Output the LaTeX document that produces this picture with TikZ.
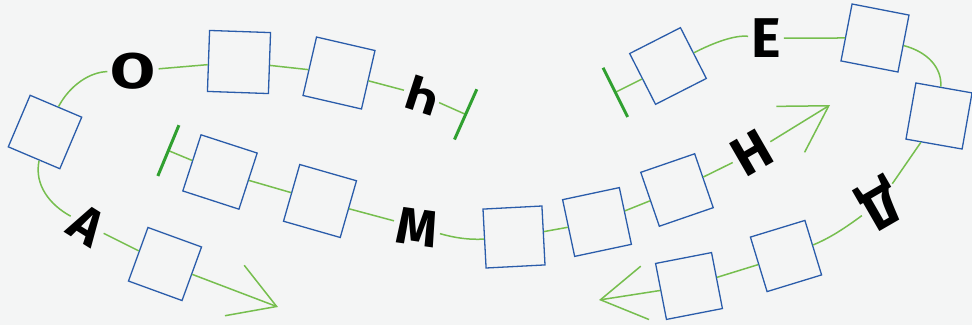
\documentclass[tikz,border=0pt]{standalone}
\usepackage{fontspec}
\newfontfamily\lf{Fira Sans}
\usetikzlibrary{arrows.meta}
\definecolor{boxblue}{RGB}{42,92,170}
\definecolor{lgreen}{RGB}{118,190,78}
\definecolor{dgreen}{RGB}{48,160,48}
\definecolor{bgc}{RGB}{244,245,245}
\begin{document}
\begin{tikzpicture}[x=1pt,y=-1pt,
  sq/.style={draw=boxblue,line width=1.3pt,minimum size=#1,inner sep=0pt,shape=rectangle},
  sq/.default=58pt,
  lt/.style={font=\lf\bfseries\fontsize{50}{50}\selectfont,inner sep=3pt,text=black},
  gl/.style={draw=lgreen,line width=1.5pt},
  barb/.style={-{Straight Barb[length=45pt,width=54pt,line width=1.5pt]}},
  endbar/.style={-{Bar[width=55pt,line width=3pt,color=dgreen]}}
]
\fill[bgc] (0,0) rectangle (972,325);
\useasboundingbox (0,0) rectangle (972,325);
% squares
\node[sq=56pt,rotate=-23] (s1) at (45,132) {};
\node[sq=61pt,rotate=-2] (s2) at (239,62) {};
\node[sq=60pt,rotate=-13] (s3) at (339,73) {};
\node[sq=59pt,rotate=-18] (s4) at (220,172) {};
\node[sq=59pt,rotate=-16] (s5) at (320,201) {};
\node[sq=59pt,rotate=3] (s6) at (514,237) {};
\node[sq=58pt,rotate=12] (s13) at (597,222) {};
\node[sq=57pt,rotate=19] (s14) at (677,190) {};
\node[sq=57pt,rotate=-20] (s7) at (165,264) {};
\node[sq=57pt,rotate=27] (s8) at (668,66) {};
\node[sq=58pt,rotate=-11] (s9) at (875,38) {};
\node[sq=57pt,rotate=-10] (s10) at (939,116) {};
\node[sq=57pt,rotate=17] (s11) at (786,256) {};
\node[sq=57pt,rotate=11] (s12) at (689,286) {};
% letters
\node[lt] (o) at (133,71) {\scalebox{1.3}[1]{О}};
\node[lt,rotate=162] (ch) at (422,95) {Ч};
\node[lt,rotate=-8,font=\lf\bfseries\fontsize{52}{52}\selectfont] (m) at (417,227) {М};
\node[lt,rotate=-32,font=\lf\bfseries\fontsize{52}{52}\selectfont] (a) at (87,225) {А};
\node[lt,rotate=30,font=\lf\bfseries\fontsize{55}{55}\selectfont] (n) at (752,153) {Н};
\node[lt,font=\lf\bfseries\fontsize{56}{56}\selectfont] (e) at (766,38) {Е};
\node[lt,rotate=-150,font=\lf\bfseries\fontsize{57}{57}\selectfont] (d) at (879,203) {Д};
% free ends
\coordinate (b1) at (467,115);
\coordinate (b2) at (167,150);
\coordinate (b3) at (614,93);
\coordinate (t1) at (278,307);
\coordinate (t2) at (830,105);
\coordinate (t3) at (599,300);
% top-left chain
\draw[gl] (s1) .. controls (70,85) and (90,72) .. (o);
\draw[gl] (o) -- (s2);
\draw[gl] (s2) -- (s3);
\draw[gl] (s3) -- (ch);
\draw[gl,endbar] (ch) -- (b1);
\draw[gl] (s1) .. controls (34,185) and (50,205) .. (a);
\draw[gl] (a) -- (s7);
\draw[gl,barb] (s7) -- (t1);
% middle chain
\draw[gl,endbar] (s4) -- (b2);
\draw[gl] (s4) -- (s5);
\draw[gl] (s5) -- (m);
\draw[gl] (m) .. controls (455,238) and (470,240) .. (s6);
\draw[gl] (s6) -- (s13);
\draw[gl] (s13) -- (s14);
\draw[gl] (s14) -- (n);
\draw[gl,barb] (n) -- (t2);
% right chain
\draw[gl,endbar] (s8) -- (b3);
\draw[gl] (s8) .. controls (715,42) and (735,35) .. (e);
\draw[gl] (e) -- (s9);
\draw[gl] (s9) .. controls (928,52) and (942,68) .. (s10);
\draw[gl] (s10) -- (d);
\draw[gl] (d) .. controls (845,228) and (830,238) .. (s11);
\draw[gl] (s11) -- (s12);
\draw[gl,barb] (s12) -- (t3);
\end{tikzpicture}
\end{document}
